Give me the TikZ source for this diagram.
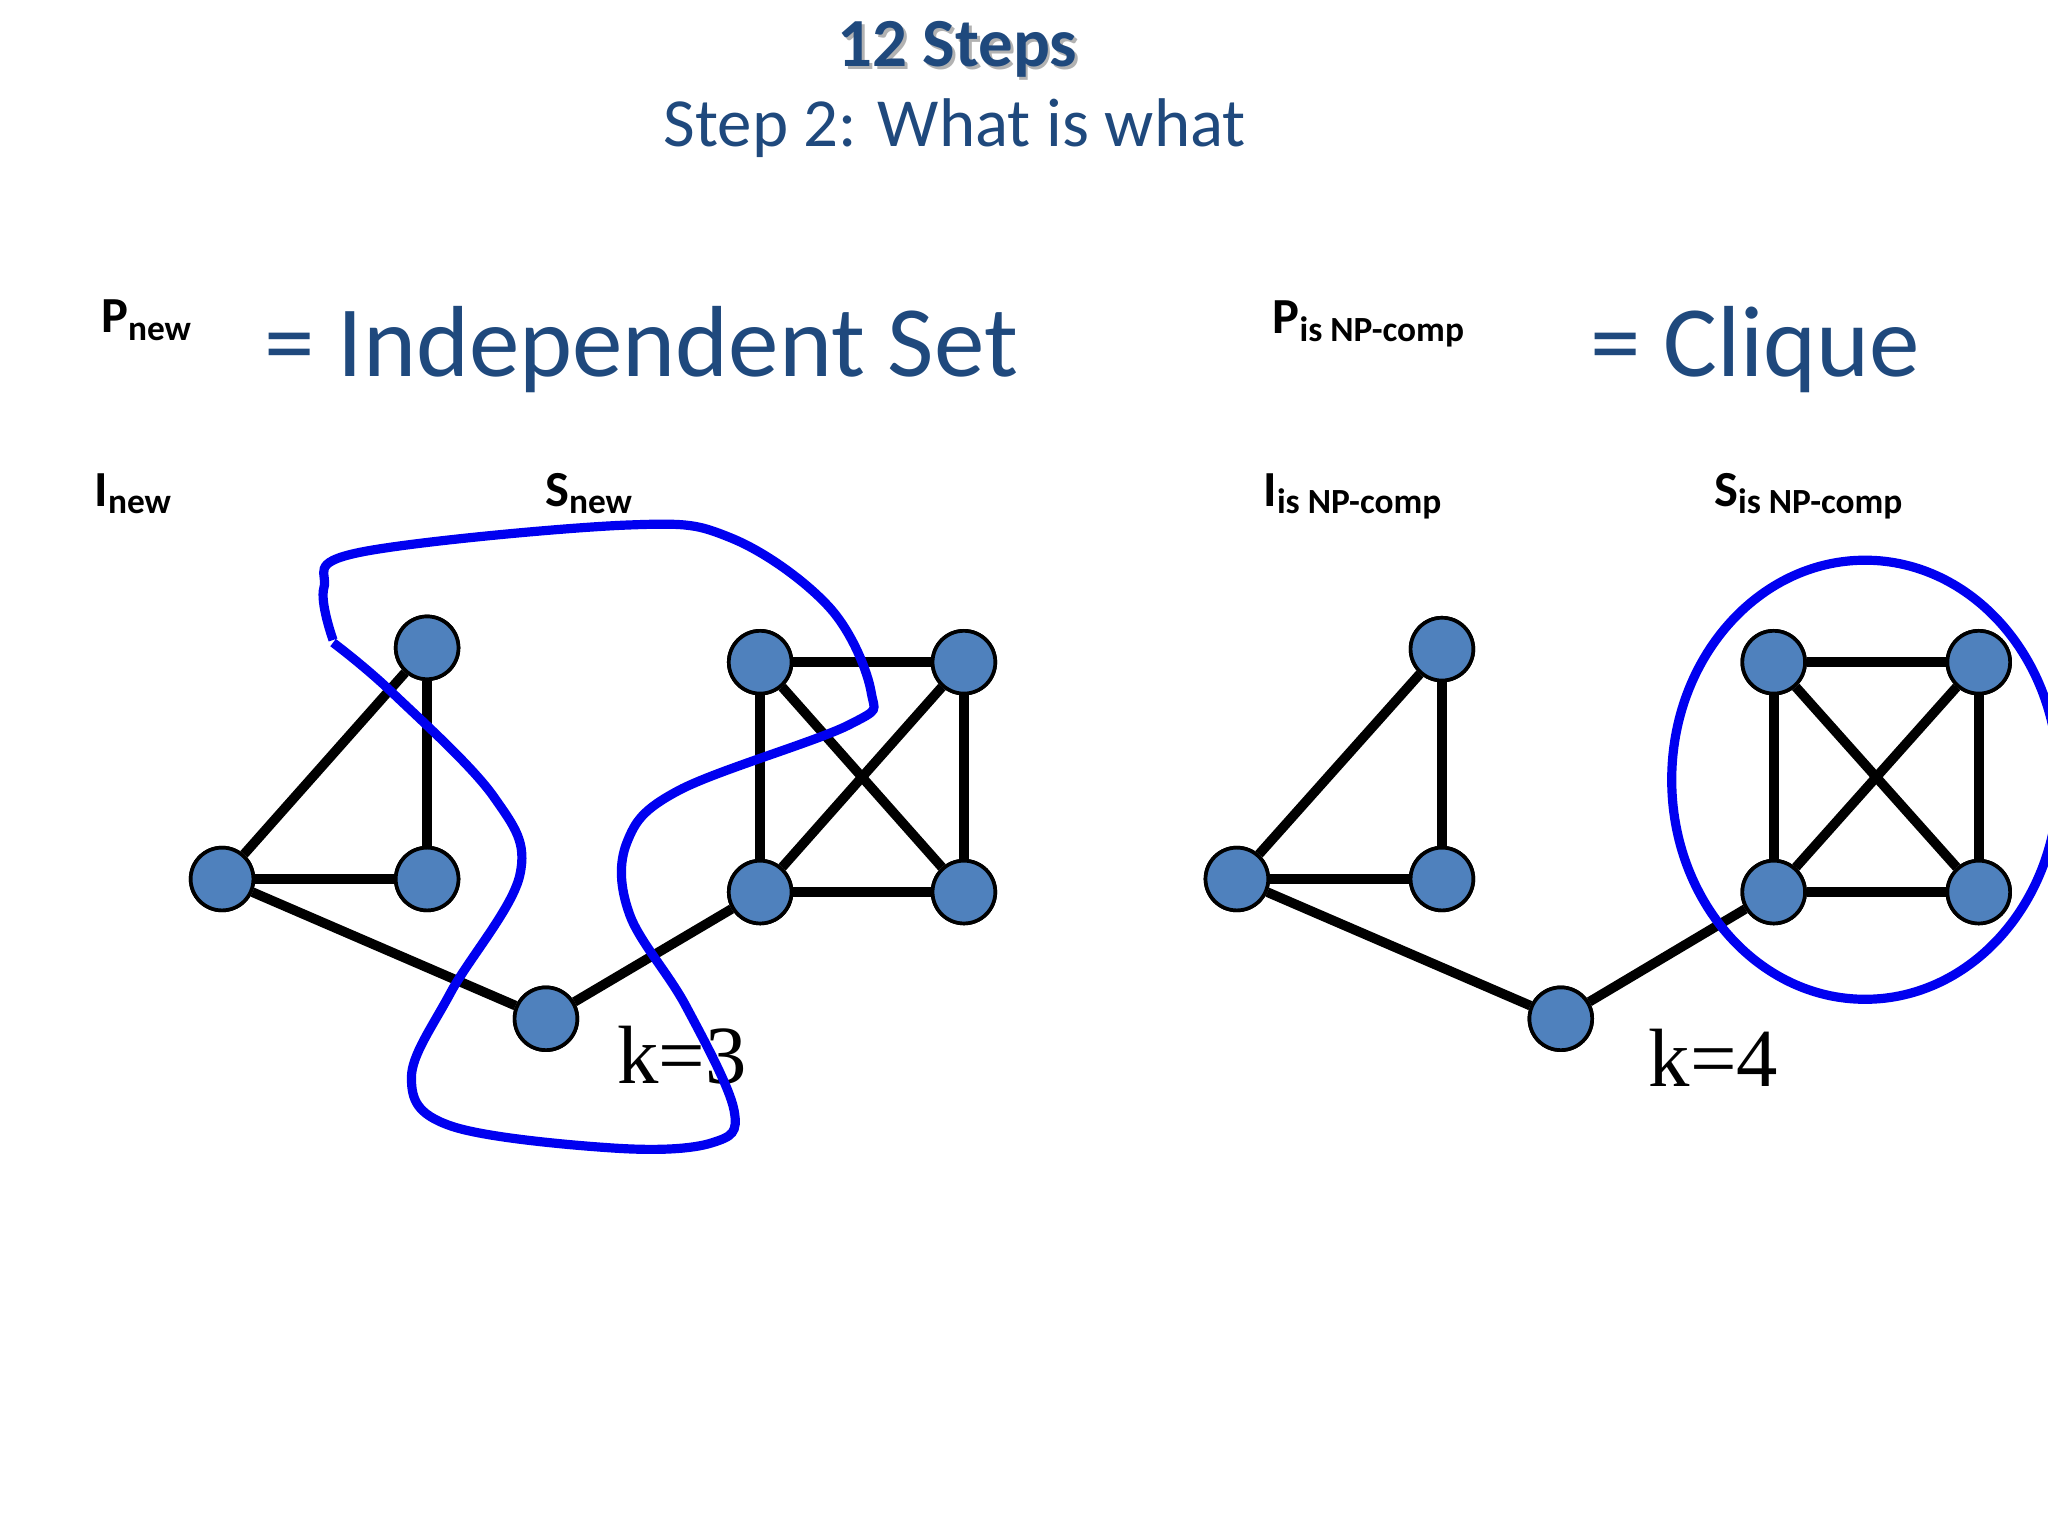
\documentclass[tikz,border=0pt]{standalone}
\usepackage{fontspec}
\usetikzlibrary{shapes.geometric}
\setmainfont{Carlito}
\newfontfamily\tms{Liberation Serif}
\definecolor{ttl}{RGB}{31,73,125}
\definecolor{nd}{RGB}{79,129,189}
\definecolor{bl}{RGB}{0,0,240}
\begin{document}
\begin{tikzpicture}[x=0.01cm,y=-0.01cm,
 vtx/.style={circle,draw=black,fill=nd,minimum size=0.48cm,inner sep=0pt,line width=0.8pt},
 edg/.style={line width=2.1pt,black},
 lbl/.style={font=\fontsize{11}{13}\selectfont\bfseries},
 big/.style={text=ttl,font=\fontsize{22}{26}\selectfont},
 kk/.style={font=\tms\fontsize{18}{20}\selectfont}]
\useasboundingbox (0,0) rectangle (1568,1176);
\node[text=gray!60,font=\fontsize{15}{18}\selectfont\bfseries] at (735,40) {12 Steps};
\node[text=ttl,font=\fontsize{15}{18}\selectfont\bfseries] at (733,38) {12 Steps};
\node[text=ttl,font=\fontsize{15}{18}\selectfont] (st) at (731,98) {Step 2: What is what};
\node[lbl,anchor=west] (p1) at (65,245) {P\textsubscript{new}};
\node[big,anchor=west] (is) at (190,268) {= Independent Set};
\node[lbl,anchor=west] (p2) at (962,248) {P\textsubscript{is NP-comp}};
\node[big,anchor=west] (cl) at (1205,268) {= Clique};
\node[lbl,anchor=west] (i1) at (60,378) {I\textsubscript{new}};
\node[lbl,anchor=west] (s1) at (405,378) {S\textsubscript{new}};
\node[lbl,anchor=west] (i2) at (955,380) {I\textsubscript{is NP-comp}};
\node[lbl,anchor=west] (s2) at (1300,380) {S\textsubscript{is NP-comp}};
\foreach \n/\x/\y in {a/327/496,b/170/673,c/327/673,d/418/780,e/582/507,f/738/507,g/582/683,h/738/683}
  \node[vtx] (\n) at (\x,\y) {};
\foreach \n/\x/\y in {A/1104/497,B/947/673,C/1104/673,D/1195/780,E/1358/507,F/1515/507,G/1358/683,H/1515/683}
  \node[vtx] (\n) at (\x,\y) {};
\foreach \u/\v in {a/b,a/c,b/c,b/d,d/g,e/f,e/g,e/h,f/g,f/h,g/h,A/B,A/C,B/C,B/D,D/G,E/F,E/G,E/H,F/G,F/H,G/H}
  \draw[edg] (\u) -- (\v);
\foreach \n in {a,b,c,d,e,f,g,h,A,B,C,D,E,F,G,H}
  \node[vtx] at (\n) {};
\node[kk] (k3) at (522,808) {k=3};
\node[kk] (k4) at (1312,810) {k=4};
\draw[bl,line width=2pt] plot[smooth,tension=0.6] coordinates {(255,490) (248,450) (275,423) (480,402) (560,412) (635,465) (667,530) (650,555) (520,605) (480,645) (482,700) (525,770) (562,850) (545,875) (470,879) (345,862) (315,825) (345,760) (398,670) (378,610) (300,530) (255,492)};
\node[draw=bl,line width=2pt,ellipse,minimum width=2.96cm,minimum height=3.36cm,inner sep=0pt] (el) at (1428,597) {};
\end{tikzpicture}
\end{document}
